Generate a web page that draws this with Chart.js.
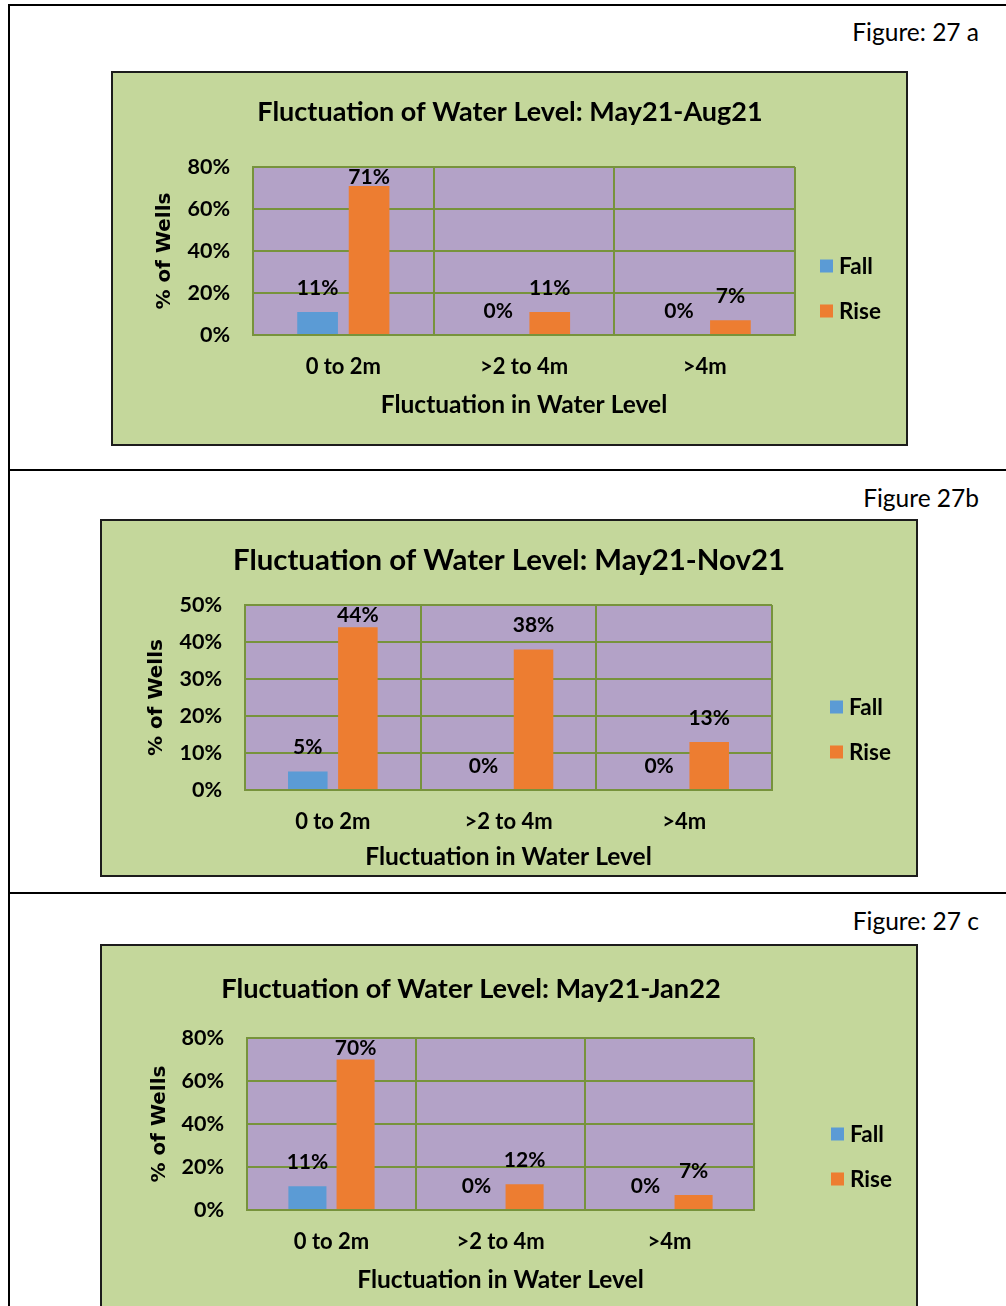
<!DOCTYPE html>
<html>
<head>
<meta charset="utf-8">
<script src="https://cdn.jsdelivr.net/npm/chart.js@4.4.0/dist/chart.umd.min.js"></script>
<style>
  body { margin: 0; width: 1006px; height: 1306px; background: #fff; position: relative; overflow: hidden; font-family: Lato, sans-serif; }
  .rule { position: absolute; background: #000; }
  .fig { position: absolute; right: 27px; font-size: 24.5px; line-height: 1; color: #000; }
  .box { position: absolute; background: #C4D79B; border: 2px solid #1c1c1c; box-sizing: border-box; }
  .box canvas { display: block; }
</style>
</head>
<body>
<div class="rule" style="left:8px;top:4px;width:998px;height:2px"></div>
<div class="rule" style="left:8px;top:4px;width:2px;height:1302px"></div>
<div class="rule" style="left:8px;top:469px;width:998px;height:2px"></div>
<div class="rule" style="left:8px;top:892px;width:998px;height:2px"></div>

<div class="fig" style="top:20px">Figure: 27 a</div>
<div class="fig" style="top:486px">Figure 27b</div>
<div class="fig" style="top:909px">Figure: 27 c</div>

<div class="box" style="left:111px;top:71px;width:797px;height:375px"><canvas id="chartA"></canvas></div>
<div class="box" style="left:100px;top:519px;width:818px;height:358px"><canvas id="chartB"></canvas></div>
<div class="box" style="left:100px;top:944px;width:818px;height:372px"><canvas id="chartC"></canvas></div>

<script>
// data (% of wells)
const categories = ['0 to 2m', '>2 to 4m', '>4m'];
const seriesNames = ['Fall', 'Rise'];

const fallAug21 = [11, 0, 0];
const riseAug21 = [71, 11, 7];
const yTicksAug21 = [0, 20, 40, 60, 80];

const fallNov21 = [5, 0, 0];
const riseNov21 = [44, 38, 13];
const yTicksNov21 = [0, 10, 20, 30, 40, 50];

const fallJan22 = [11, 0, 0];
const riseJan22 = [70, 12, 7];
const yTicksJan22 = [0, 20, 40, 60, 80];

const titles = [
    'Fluctuation of Water Level: May21-Aug21',
    'Fluctuation of Water Level: May21-Nov21',
    'Fluctuation of Water Level: May21-Jan22'
];

const FALL_COLOR = '#5B9BD5';
const RISE_COLOR = '#ED7D31';
const PLOT_BG = '#B3A2C7';
const GRID = '#77933C';

Chart.defaults.color = '#000';
Chart.defaults.font.family = 'Lato, sans-serif';

// purple plot area
const plotBackground = {
    id: 'plotBackground',
    beforeDraw(chart) {
        const a = chart.chartArea;
        const ctx = chart.ctx;
        ctx.save();
        ctx.fillStyle = PLOT_BG;
        ctx.fillRect(a.left, a.top, a.right - a.left, a.bottom - a.top);
        ctx.restore();
    }
};

// "71%" style labels above each bar
const valueLabels = {
    id: 'valueLabels',
    afterDatasetsDraw(chart) {
        const ctx = chart.ctx;
        ctx.save();
        ctx.font = 'bold 21px Lato';
        ctx.textAlign = 'center';
        ctx.textBaseline = 'middle';
        ctx.fillStyle = '#000';
        chart.data.datasets.forEach((ds, i) => {
            chart.getDatasetMeta(i).data.forEach((bar, j) => {
                const y = Math.max(bar.y - 24, chart.chartArea.top + 10);
                ctx.fillText(ds.data[j] + '%', bar.x, y);
            });
        });
        ctx.restore();
    }
};

// chart title and the legend on the right
const sideText = {
    id: 'sideText',
    afterDraw(chart, args, opts) {
        const ctx = chart.ctx;
        ctx.save();
        ctx.fillStyle = '#000';
        ctx.textBaseline = 'middle';
        ctx.textAlign = 'center';
        ctx.font = 'bold ' + opts.titleSize + 'px Lato';
        ctx.fillText(opts.title, opts.titleX, opts.titleY);

        ctx.textAlign = 'left';
        ctx.font = 'bold 22.5px Lato';
        chart.data.datasets.forEach((ds, i) => {
            const y = opts.legendY[i];
            ctx.fillStyle = ds.backgroundColor;
            ctx.fillRect(opts.legendX, y - 6.5, 13, 13);
            ctx.fillStyle = '#000';
            ctx.fillText(ds.label, opts.legendX + 19, y + 1);
        });
        ctx.restore();
    }
};

function makeChart(id, fall, rise, yTicks, title, g) {
    const canvas = document.getElementById(id);
    canvas.width = g.W;
    canvas.height = g.H;
    canvas.style.width = g.W + 'px';
    canvas.style.height = g.H + 'px';

    return new Chart(canvas.getContext('2d'), {
        type: 'bar',
        data: {
            labels: categories,
            datasets: [
                { label: seriesNames[0], data: fall, backgroundColor: FALL_COLOR },
                { label: seriesNames[1], data: rise, backgroundColor: RISE_COLOR }
            ]
        },
        options: {
            responsive: false,
            animation: false,
            events: [],
            datasets: {
                bar: { barPercentage: 0.79, categoryPercentage: 0.57 }
            },
            layout: {
                padding: { left: 0, top: g.plotTop, right: g.W - g.plotRight, bottom: 0 }
            },
            plugins: {
                legend: { display: false },
                title: { display: false },
                tooltip: { enabled: false },
                sideText: {
                    title: title,
                    titleSize: g.titleSize,
                    titleX: g.titleX,
                    titleY: g.titleY,
                    legendX: g.legendX,
                    legendY: g.legendY
                }
            },
            scales: {
                x: {
                    afterFit: s => { s.height = g.H - g.plotBottom; },
                    grid: { color: GRID, lineWidth: 2, drawTicks: false, offset: true },
                    border: { color: GRID, width: 2 },
                    ticks: { font: { size: 22, weight: 'bold' }, padding: 19 },
                    title: {
                        display: true,
                        text: 'Fluctuation in Water Level',
                        font: { size: 24.5, weight: 'bold' },
                        padding: { top: 0, bottom: g.H - g.xTitleY - 14.7 }
                    }
                },
                y: {
                    min: yTicks[0],
                    max: yTicks[yTicks.length - 1],
                    afterFit: s => { s.width = g.plotLeft; },
                    grid: { color: GRID, lineWidth: 2, drawTicks: false },
                    border: { color: GRID, width: 2 },
                    ticks: {
                        stepSize: yTicks[1] - yTicks[0],
                        font: { size: 21.5, weight: 'bold' },
                        padding: 23,
                        callback: v => v + '%'
                    },
                    title: {
                        display: true,
                        text: '% of Wells',
                        font: { family: 'DejaVu Sans', size: 20, weight: 'bold' },
                        padding: { top: g.yTitleX - 12, bottom: 0 }
                    }
                }
            }
        },
        plugins: [plotBackground, valueLabels, sideText]
    });
}

makeChart('chartA', fallAug21, riseAug21, yTicksAug21, titles[0], {
    W: 793, H: 371, plotLeft: 140, plotTop: 94, plotRight: 682, plotBottom: 262,
    titleSize: 27, titleX: 397, titleY: 39, yTitleX: 52, xTitleY: 332,
    legendX: 707, legendY: [193, 238]
});

makeChart('chartB', fallNov21, riseNov21, yTicksNov21, titles[1], {
    W: 814, H: 354, plotLeft: 143, plotTop: 84, plotRight: 670, plotBottom: 269,
    titleSize: 29.4, titleX: 407, titleY: 40, yTitleX: 55, xTitleY: 336,
    legendX: 728, legendY: [186, 231]
});

makeChart('chartC', fallJan22, riseJan22, yTicksJan22, titles[2], {
    W: 814, H: 368, plotLeft: 145, plotTop: 92, plotRight: 652, plotBottom: 264,
    titleSize: 27.2, titleX: 369, titleY: 43, yTitleX: 58, xTitleY: 334,
    legendX: 729, legendY: [188, 233]
});
</script>
</body>
</html>
